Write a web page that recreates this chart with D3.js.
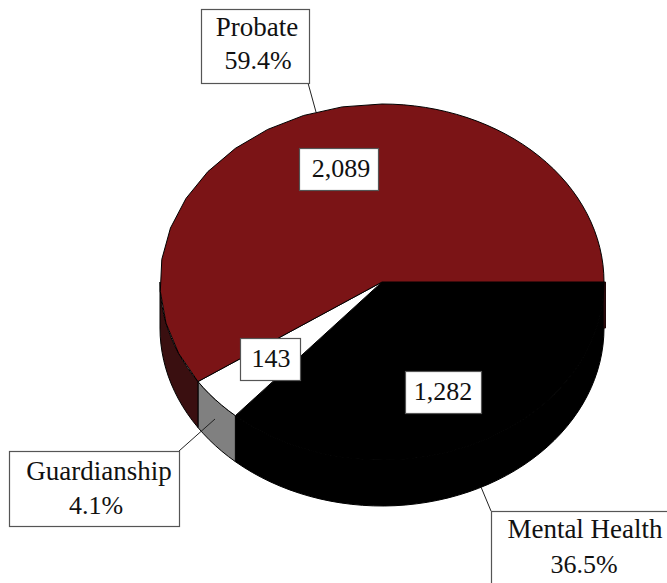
<!DOCTYPE html>
<html><head><meta charset="utf-8">
<script src="https://cdnjs.cloudflare.com/ajax/libs/d3/7.8.5/d3.min.js"></script>
<style>html,body{margin:0;padding:0;background:#fff;overflow:hidden}svg{display:block}
text{font-family:"Liberation Serif",serif;fill:#111;text-anchor:middle}</style></head>
<body><svg id="c" width="667" height="583"></svg>
<script>
const categories=["Mental Health","Guardianship","Probate"];
const counts=[1282,143,2089];
const countLabels=["1,282","143","2,089"];
const shareLabels=["36.5%","4.1%","59.4%"];
const topColors=["#000000","#ffffff","#7b1416"];
const wallColors=["#000000","#808080","#3a0f10"];

const W=667,H=583,cx=382,cy=282,rx=222,ry=178,depth=46;
const svg=d3.select("#c");
const px=d3.scaleLinear().domain([-1,1]).range([cx-rx,cx+rx]);
const py=d3.scaleLinear().domain([-1,1]).range([cy-ry,cy+ry]);
const arcs=d3.pie().sort(null).value(d=>d).startAngle(Math.PI/2).endAngle(Math.PI*2.5)(counts);
const pt=(a,dy=0)=>[px(Math.sin(a)),py(-Math.cos(a))+dy];
const coarse=Math.PI/16,fine=Math.PI/64;
const samples=(a0,a1,dy=0,step=fine)=>{
  const n=Math.max(1,Math.ceil((a1-a0)/step));
  return d3.range(n+1).map(i=>pt(a0+(a1-a0)*i/n,dy));
};
const line=d3.line();
const west=Math.PI*1.5,north=Math.PI*2;

// side walls, visible from east round the front to west
arcs.forEach((d,i)=>{
  const a0=d.startAngle,a1=Math.min(d.endAngle,west);
  if(a1<=a0)return;
  const upper=samples(a0,a1),lower=samples(a0,a1,depth).reverse();
  svg.append("path").attr("d",line(upper.concat(lower))+"Z")
    .attr("fill",wallColors[i]).attr("stroke","#000").attr("stroke-width",1).attr("stroke-linejoin","round");
});
// cut face of the large slice showing at the east edge
const east=pt(Math.PI/2);
svg.append("path").attr("d",line([east,[east[0]+1.5,east[1]],[east[0]+1.5,east[1]+depth],[east[0],east[1]+depth]])+"Z")
  .attr("fill",wallColors[2]).attr("stroke","#1e0708").attr("stroke-width",1);

// top faces (the upper-left rim of the reference is visibly faceted)
arcs.forEach((d,i)=>{
  const rim=d.endAngle>north
    ? samples(d.startAngle,north,0,coarse).concat(samples(north,d.endAngle))
    : samples(d.startAngle,d.endAngle);
  svg.append("path").attr("d",line([[cx,cy]].concat(rim))+"Z")
    .attr("fill",topColors[i]).attr("stroke","#000").attr("stroke-width",1).attr("stroke-linejoin","round");
});

// leader lines
const leaders=[[[481,487],[491,511]],[[215,419],[179,451]],[[316,112],[308,83]]];
leaders.forEach(l=>svg.append("path").attr("d",line(l)).attr("fill","none").attr("stroke","#222").attr("stroke-width",1));

function box(x,y,w,h,lines){
  svg.append("rect").attr("x",x+.5).attr("y",y+.5).attr("width",w).attr("height",h)
    .attr("fill","#fff").attr("stroke","#555").attr("stroke-width",1.2);
  lines.forEach(t=>svg.append("text").attr("x",x+t.dx).attr("y",y+t.dy).attr("font-size",t.z).text(t.s));
}
// category boxes
box(201,9,108,74,[{s:categories[2],dx:56,dy:27,z:27},{s:shareLabels[2],dx:57,dy:60,z:26}]);
box(9,451,170,75,[{s:categories[1],dx:90,dy:29,z:27},{s:shareLabels[1],dx:87,dy:63,z:26}]);
box(491,511,190,90,[{s:categories[0],dx:94,dy:27,z:27},{s:shareLabels[0],dx:93,dy:62,z:26}]);
// count boxes
box(299,148,79,42,[{s:countLabels[2],dx:42,dy:29,z:26}]);
box(240,338,60,42,[{s:countLabels[1],dx:31,dy:29,z:26}]);
box(405,371,76,42,[{s:countLabels[0],dx:38,dy:29,z:26}]);
</script></body></html>
